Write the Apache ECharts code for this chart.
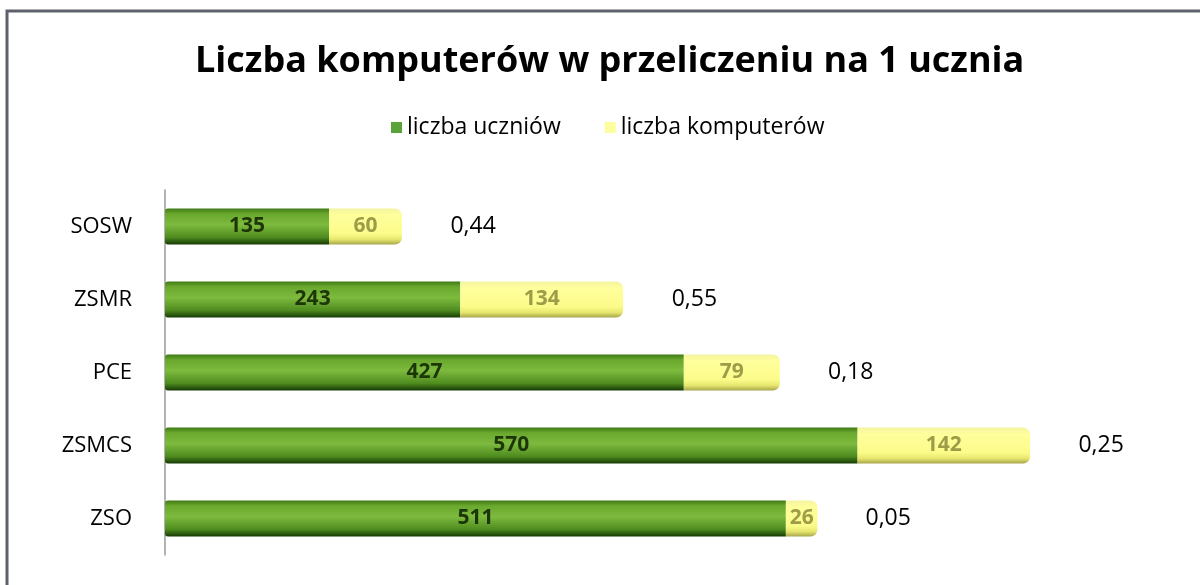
<!DOCTYPE html>
<html>
<head>
<meta charset="utf-8">
<script src="https://cdn.jsdelivr.net/npm/echarts@6/dist/echarts.min.js"></script>
<style>
  html, body { margin: 0; padding: 0; background: #fff; }
  #main { width: 1200px; height: 585px; }
</style>
</head>
<body>
<div id="main"></div>
<script>
// dane z wykresu (od góry do dołu)
var categories = ['SOSW', 'ZSMR', 'PCE', 'ZSMCS', 'ZSO'];
var students = [135, 243, 427, 570, 511];
var computers = [60, 134, 79, 142, 26];
var ratios = [0.44, 0.55, 0.18, 0.25, 0.05];

var greenFill = new echarts.graphic.LinearGradient(0, 0, 0, 1, [
  {offset: 0, color: '#3f7a16'},
  {offset: 0.15, color: '#6aa82e'},
  {offset: 0.45, color: '#7dba3e'},
  {offset: 0.8, color: '#4f8c1f'},
  {offset: 1, color: '#163a05'}
]);
var yellowFill = new echarts.graphic.LinearGradient(0, 0, 0, 1, [
  {offset: 0, color: '#f4f4a0'},
  {offset: 0.2, color: '#ffff9c'},
  {offset: 0.7, color: '#fbfb8a'},
  {offset: 0.86, color: '#e6e66e'},
  {offset: 1, color: '#a7a64c'}
]);

var myChart = echarts.init(document.getElementById('main'));
var option = {
  backgroundColor: '#ffffff',
  animation: false,
  title: {
    text: 'Liczba komputerów w przeliczeniu na 1 ucznia',
    left: 190,
    top: 39,
    textStyle: {
      fontFamily: 'Open Sans',
      fontWeight: 'bold',
      fontSize: 36,
      color: '#000'
    }
  },
  legend: {
    top: 111,
    left: 386,
    itemWidth: 11,
    itemHeight: 11,
    itemGap: 44,
    icon: 'rect',
    data: [
      {name: 'liczba uczniów', itemStyle: {color: '#5aa23a'}},
      {name: 'liczba komputerów', itemStyle: {color: '#fdfd9e'}}
    ],
    textStyle: {
      fontFamily: 'Open Sans',
      fontSize: 23,
      color: '#000'
    }
  },
  graphic: [{
    type: 'rect',
    shape: {x: 7, y: 11, width: 1210, height: 600},
    style: {fill: 'none', stroke: '#5d616c', lineWidth: 3}
  }],
  grid: {
    left: 165,
    top: 190,
    width: 972,
    height: 365
  },
  xAxis: {
    type: 'value',
    min: 0,
    max: 800,
    show: false
  },
  yAxis: {
    type: 'category',
    data: categories,
    inverse: true,
    offset: 9,
    axisLine: {show: true, lineStyle: {color: '#9a9a9a', width: 1.5}},
    axisTick: {show: false},
    axisLabel: {
      margin: 24,
      fontFamily: 'Open Sans',
      fontSize: 22,
      color: '#000'
    }
  },
  series: [
    {
      name: 'liczba uczniów',
      type: 'bar',
      stack: 'all',
      barWidth: 36,
      data: students,
      itemStyle: {color: greenFill, borderRadius: [3, 0, 0, 3]},
      label: {
        show: true,
        position: 'inside',
        fontFamily: 'Open Sans',
        fontWeight: 'bold',
        fontSize: 21,
        color: '#1c3608'
      }
    },
    {
      name: 'liczba komputerów',
      type: 'bar',
      stack: 'all',
      data: computers,
      itemStyle: {color: yellowFill, borderRadius: [0, 7, 7, 0]},
      label: {
        show: true,
        position: 'inside',
        fontFamily: 'Open Sans',
        fontWeight: 'bold',
        fontSize: 21,
        color: '#9d9c48'
      }
    },
    {
      name: 'wskaźnik',
      type: 'bar',
      stack: 'all',
      data: ratios,
      itemStyle: {color: 'rgba(0,0,0,0)'},
      label: {
        show: true,
        position: 'right',
        distance: 48,
        fontFamily: 'Open Sans',
        fontSize: 23,
        color: '#000',
        formatter: function (p) {
          return p.value.toFixed(2).replace('.', ',');
        }
      }
    }
  ]
};
myChart.setOption(option);
</script>
</body>
</html>
